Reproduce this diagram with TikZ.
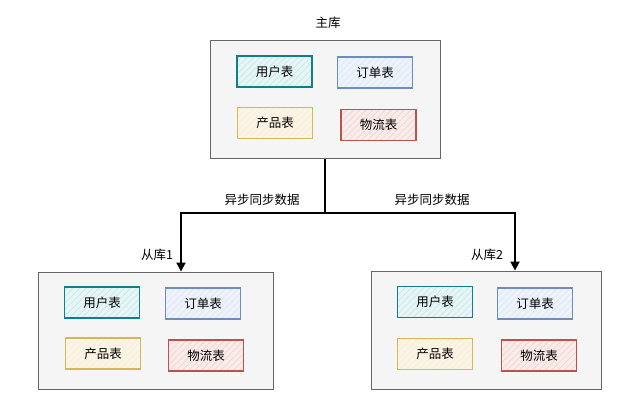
\documentclass[tikz,border=0pt]{standalone}
\usepackage{fontspec}
\setmainfont{Noto Sans CJK SC}
\usetikzlibrary{patterns.meta,arrows.meta,positioning}
\definecolor{dbfill}{HTML}{F5F5F5}
\definecolor{dbline}{HTML}{666666}
\definecolor{tealline}{HTML}{0E8088}
\definecolor{tealfill}{HTML}{E8F5F5}
\definecolor{tealhatch}{HTML}{C4E9EB}
\definecolor{blueline}{HTML}{6C8EBF}
\definecolor{bluefill}{HTML}{EEF3FA}
\definecolor{bluehatch}{HTML}{DAE8FC}
\definecolor{yelline}{HTML}{D6B656}
\definecolor{yelfill}{HTML}{FAF4E8}
\definecolor{yelhatch}{HTML}{FCEFCF}
\definecolor{redline}{HTML}{B85450}
\definecolor{redfill}{HTML}{F8ECEB}
\definecolor{redhatch}{HTML}{F5D3D1}
\tikzset{
  db/.style={draw=dbline, fill=dbfill, line width=0.9pt},
  tbl/.style={line width=1.3pt, minimum width=75pt, minimum height=31pt, inner sep=0pt, font=\fontsize{12.5}{14}\selectfont},
  tteal/.style={tbl, draw=tealline, preaction={fill=tealfill}, pattern={Lines[angle=45,distance=4.5pt,line width=0.7pt]}, pattern color=tealhatch},
  tblue/.style={tbl, draw=blueline, preaction={fill=bluefill}, pattern={Lines[angle=45,distance=4.5pt,line width=0.7pt]}, pattern color=bluehatch},
  tyel/.style={tbl, draw=yelline, preaction={fill=yelfill}, pattern={Lines[angle=45,distance=4.5pt,line width=0.7pt]}, pattern color=yelhatch},
  tred/.style={tbl, draw=redline, preaction={fill=redfill}, pattern={Lines[angle=45,distance=4.5pt,line width=0.7pt]}, pattern color=redhatch},
  lbl/.style={font=\fontsize{12.5}{14}\selectfont, inner sep=1pt},
  conn/.style={line width=1.8pt, black},
  arr/.style={conn, -{Triangle[length=9pt,width=9pt]}}
}
\begin{document}
\begin{tikzpicture}[x=1pt,y=-1pt]
\useasboundingbox (0,0) rectangle (640,419);
% main db
\node[db, minimum width=230pt, minimum height=118pt, inner sep=0pt] (main) at (325,99.5) {};
\node[lbl] (mainlbl) at (328,23) {主库};
\node[tteal] (m1) at (274.5,71.5) {用户表};
\node[tblue] (m2) at (375,72.5) {订单表};
\node[tyel] (m3) at (275,123) {产品表};
\node[tred] (m4) at (378.5,125) {物流表};
% left db
\node[db, minimum width=235pt, minimum height=117pt, inner sep=0pt] (left) at (155.5,330.5) {};
\node[lbl] (leftlbl) at (157,255) {从库1};
\node[tteal] (l1) at (102,302.5) {用户表};
\node[tblue] (l2) at (203,303.5) {订单表};
\node[tyel] (l3) at (103,353.5) {产品表};
\node[tred] (l4) at (206,355.5) {物流表};
% right db
\node[db, minimum width=230pt, minimum height=118pt, inner sep=0pt] (right) at (486,330) {};
\node[lbl] (rightlbl) at (487,255) {从库2};
\node[tteal] (r1) at (435,302) {用户表};
\node[tblue] (r2) at (535,303.5) {订单表};
\node[tyel] (r3) at (435,354) {产品表};
\node[tred] (r4) at (539,355.5) {物流表};
% connectors
\coordinate (split) at (325,213);
\coordinate (lc) at (181,213);
\coordinate (rc) at (515,213);
\draw[conn] (main.south) -- (split);
\draw[arr] (split) -- (lc) -- (lc |- left.north);
\draw[arr] (split) -- (rc) -- (rc |- right.north);
\node[lbl] (sync1) at (262,200) {异步同步数据};
\node[lbl] (sync2) at (432,200) {异步同步数据};
\end{tikzpicture}
\end{document}
